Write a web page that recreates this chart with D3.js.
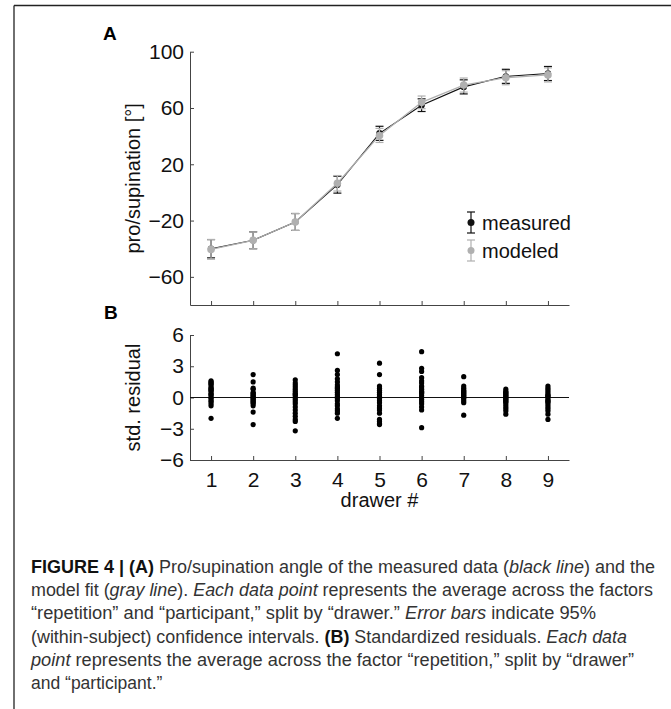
<!DOCTYPE html>
<html>
<head>
<meta charset="utf-8">
<script src="https://cdn.jsdelivr.net/npm/d3@7"></script>
<style>
  body { margin: 0; background: #fff; }
  svg { display: block; }
  text { font-family: "Liberation Sans", Arial, sans-serif; }
</style>
</head>
<body>
<svg id="fig" width="671" height="709"></svg>
<script>
// drawer numbers
let drawers = [1, 2, 3, 4, 5, 6, 7, 8, 9];

// panel A: mean pro/supination angle and 95% CI half-width
let measured = [-40, -34, -21, 5.5, 42, 62, 75, 82.5, 84.5];
let measuredCI = [6.5, 6, 6, 6, 5, 4.5, 5, 5, 5];
let modeled = [-40.5, -34, -21, 6.5, 40.5, 64, 76.3, 81.5, 83.5];
let modeledCI = [7, 6, 6, 5.5, 5, 4.5, 5, 5, 5];

let yTicksA = [-60, -20, 20, 60, 100];
let yTicksB = [-6, -3, 0, 3, 6];

// panel B: standardized residuals per drawer (one per participant)
let resid1 = [1.6, 1.5, 1.4, 1.3, 1.2, 1.0, 0.9, 0.8, 0.7, 0.6, 0.4, 0.3, 0.2, 0.0, -0.1, -0.3, -0.4, -0.6, -0.8, -2.0];
let resid2 = [2.2, 1.5, 0.9, 0.8, 0.5, 0.4, 0.3, 0.2, 0.1, 0.0, -0.1, -0.2, -0.3, -0.4, -0.5, -0.6, -0.8, -1.4, -2.6];
let resid3 = [1.7, 1.4, 1.2, 1.0, 0.8, 0.6, 0.4, 0.3, 0.2, 0.0, -0.2, -0.4, -0.6, -0.9, -1.2, -1.5, -1.8, -2.1, -2.3, -3.2];
let resid4 = [4.2, 2.6, 2.2, 1.8, 1.5, 1.2, 1.0, 0.9, 0.7, 0.5, 0.3, 0.1, -0.1, -0.3, -0.6, -0.8, -1.1, -1.3, -1.5, -2.0];
let resid5 = [3.3, 2.2, 1.1, 0.9, 0.7, 0.5, 0.3, 0.1, 0.0, -0.1, -0.3, -0.5, -0.8, -1.0, -1.2, -1.5, -2.1, -2.3, -2.5, -2.6];
let resid6 = [4.4, 2.8, 2.5, 1.9, 1.6, 1.4, 1.1, 1.0, 0.8, 0.6, 0.5, 0.4, 0.2, 0.0, -0.2, -0.4, -0.6, -0.9, -1.2, -2.9];
let resid7 = [2.0, 1.1, 0.9, 0.7, 0.6, 0.5, 0.4, 0.3, 0.2, 0.1, 0.0, -0.1, -0.3, -0.5, -1.7];
let resid8 = [0.8, 0.6, 0.5, 0.4, 0.3, 0.2, 0.1, 0.0, -0.1, -0.2, -0.3, -0.4, -0.5, -0.7, -0.9, -1.1, -1.3, -1.6];
let resid9 = [1.1, 0.9, 0.7, 0.5, 0.3, 0.2, 0.1, 0.0, -0.2, -0.3, -0.4, -0.5, -0.7, -0.9, -1.1, -1.3, -1.6, -2.1];
let residuals = [resid1, resid2, resid3, resid4, resid5, resid6, resid7, resid8, resid9];

let svg = d3.select("#fig");
let axisColor = "#444";
let grayColor = "#b0b0b0";

// outer frame (top and left rule)
svg.append("line").attr("x1", 14).attr("x2", 671).attr("y1", 5.5).attr("y2", 5.5)
    .attr("stroke", "#222").attr("stroke-width", 1.3);
svg.append("line").attr("x1", 14).attr("x2", 14).attr("y1", 5.5).attr("y2", 709)
    .attr("stroke", "#222").attr("stroke-width", 1.3);

let x = d3.scaleLinear().domain([0.5, 9.5]).range([190, 569]);
let yA = d3.scaleLinear().domain([-80, 100]).range([305, 51.7]);
let yB = d3.scaleLinear().domain([-6, 6]).range([460, 335]);

function styleAxis(g) {
    g.selectAll("path, line").attr("stroke", axisColor).attr("stroke-width", 1);
    g.selectAll("text").attr("fill", "#111").style("font-size", "21px")
        .style("font-family", "'Liberation Sans', Arial, sans-serif");
}

// ---- panel A ----
let gA = svg.append("g");
gA.append("g").attr("transform", "translate(0,305)")
    .call(d3.axisBottom(x).tickValues(drawers).tickSize(-4).tickSizeOuter(0).tickFormat(""))
    .call(styleAxis);
gA.append("g").attr("transform", "translate(190,0)")
    .call(d3.axisLeft(yA).tickValues(yTicksA).tickSize(-4).tickSizeOuter(0).tickPadding(6)
        .tickFormat(d => d < 0 ? "\u2212" + Math.abs(d) : d))
    .call(styleAxis);

gA.append("text").attr("transform", "translate(140," + yA(10) + ") rotate(-90)")
    .attr("text-anchor", "middle").style("font-size", "20px").attr("fill", "#111")
    .text("pro/supination [°]");
gA.append("text").attr("x", 103).attr("y", 40).style("font-size", "19px")
    .style("font-weight", "bold").text("A");

function drawSeries(g, vals, ci, color, lw, r) {
    g.append("path").datum(vals)
        .attr("fill", "none").attr("stroke", color).attr("stroke-width", lw)
        .attr("d", d3.line().x((d, i) => x(drawers[i])).y(d => yA(d)));
    let eb = g.append("g").selectAll("g").data(vals).join("g");
    eb.append("line").attr("x1", (d, i) => x(drawers[i])).attr("x2", (d, i) => x(drawers[i]))
        .attr("y1", (d, i) => yA(d - ci[i])).attr("y2", (d, i) => yA(d + ci[i]))
        .attr("stroke", color).attr("stroke-width", 1.2);
    [-1, 1].forEach(s => {
        eb.append("line").attr("x1", (d, i) => x(drawers[i]) - 4).attr("x2", (d, i) => x(drawers[i]) + 4)
            .attr("y1", (d, i) => yA(d + s * ci[i])).attr("y2", (d, i) => yA(d + s * ci[i]))
            .attr("stroke", color).attr("stroke-width", 1.2);
    });
    eb.append("circle").attr("cx", (d, i) => x(drawers[i])).attr("cy", d => yA(d))
        .attr("r", r).attr("fill", color);
}
drawSeries(gA, measured, measuredCI, "#111", 1.1, 3.2);
drawSeries(gA, modeled, modeledCI, grayColor, 1.3, 3.8);

// legend
let legend = [["measured", "#111", 222.5], ["modeled", grayColor, 250.5]];
legend.forEach(([name, color, ly]) => {
    let lx = 471;
    svg.append("line").attr("x1", lx).attr("x2", lx).attr("y1", ly - 10.5).attr("y2", ly + 10.5)
        .attr("stroke", color).attr("stroke-width", 1.2);
    [-10.5, 10.5].forEach(o => svg.append("line").attr("x1", lx - 4).attr("x2", lx + 4)
        .attr("y1", ly + o).attr("y2", ly + o).attr("stroke", color).attr("stroke-width", 1.2));
    svg.append("circle").attr("cx", lx).attr("cy", ly).attr("r", 3.5).attr("fill", color);
    svg.append("text").attr("x", 482).attr("y", ly + 7).style("font-size", "20px")
        .attr("fill", "#111").text(name);
});

// ---- panel B ----
let gB = svg.append("g");
gB.append("g").attr("transform", "translate(0,460)")
    .call(d3.axisBottom(x).tickValues(drawers).tickSize(-4).tickSizeOuter(0).tickPadding(12))
    .call(styleAxis);
gB.append("g").attr("transform", "translate(190,0)")
    .call(d3.axisLeft(yB).tickValues(yTicksB).tickSize(-4).tickSizeOuter(0).tickPadding(6)
        .tickFormat(d => d < 0 ? "\u2212" + Math.abs(d) : d))
    .call(styleAxis);

gB.append("line").attr("x1", 190).attr("x2", 569).attr("y1", yB(0)).attr("y2", yB(0))
    .attr("stroke", "#111").attr("stroke-width", 1.2);

residuals.forEach((col, i) => {
    gB.append("g").selectAll("circle").data(col).join("circle")
        .attr("cx", x(drawers[i])).attr("cy", d => yB(d)).attr("r", 2.6).attr("fill", "#000");
});

gB.append("text").attr("transform", "translate(140," + yB(0) + ") rotate(-90)")
    .attr("text-anchor", "middle").style("font-size", "20px").attr("fill", "#111")
    .text("std. residual");
gB.append("text").attr("x", 104).attr("y", 319).style("font-size", "19px")
    .style("font-weight", "bold").text("B");
gB.append("text").attr("x", x(5)).attr("y", 507).attr("text-anchor", "middle")
    .style("font-size", "20px").attr("fill", "#111").text("drawer #");

// ---- caption ----
let captionLines = [
    [["FIGURE 4 | (A)", "b"], [" Pro/supination angle of the measured data (", ""], ["black line", "i"], [") and the", ""]],
    [["model fit (", ""], ["gray line", "i"], ["). ", ""], ["Each data point", "i"], [" represents the average across the factors", ""]],
    [["\u201Crepetition\u201D and \u201Cparticipant,\u201D split by \u201Cdrawer.\u201D ", ""], ["Error bars", "i"], [" indicate 95%", ""]],
    [["(within-subject) confidence intervals. ", ""], ["(B)", "b"], [" Standardized residuals. ", ""], ["Each data", "i"]],
    [["point", "i"], [" represents the average across the factor \u201Crepetition,\u201D split by \u201Cdrawer\u201D", ""]],
    [["and \u201Cparticipant.\u201D", ""]]
];
let captionWidths = [624, 622, 565, 596, 603, null];
captionLines.forEach((parts, li) => {
    let t = svg.append("text").attr("x", 31).attr("y", 573 + li * 23.2)
        .style("font-size", "17.5px").attr("fill", "#333");
    if (captionWidths[li]) t.attr("textLength", captionWidths[li]).attr("lengthAdjust", "spacingAndGlyphs");
    parts.forEach(([s, f]) => {
        t.append("tspan").text(s)
            .style("font-weight", f === "b" ? "bold" : "normal")
            .style("font-style", f === "i" ? "italic" : "normal")
            .attr("fill", f === "b" ? "#111" : "#333");
    });
});
</script>
</body>
</html>
